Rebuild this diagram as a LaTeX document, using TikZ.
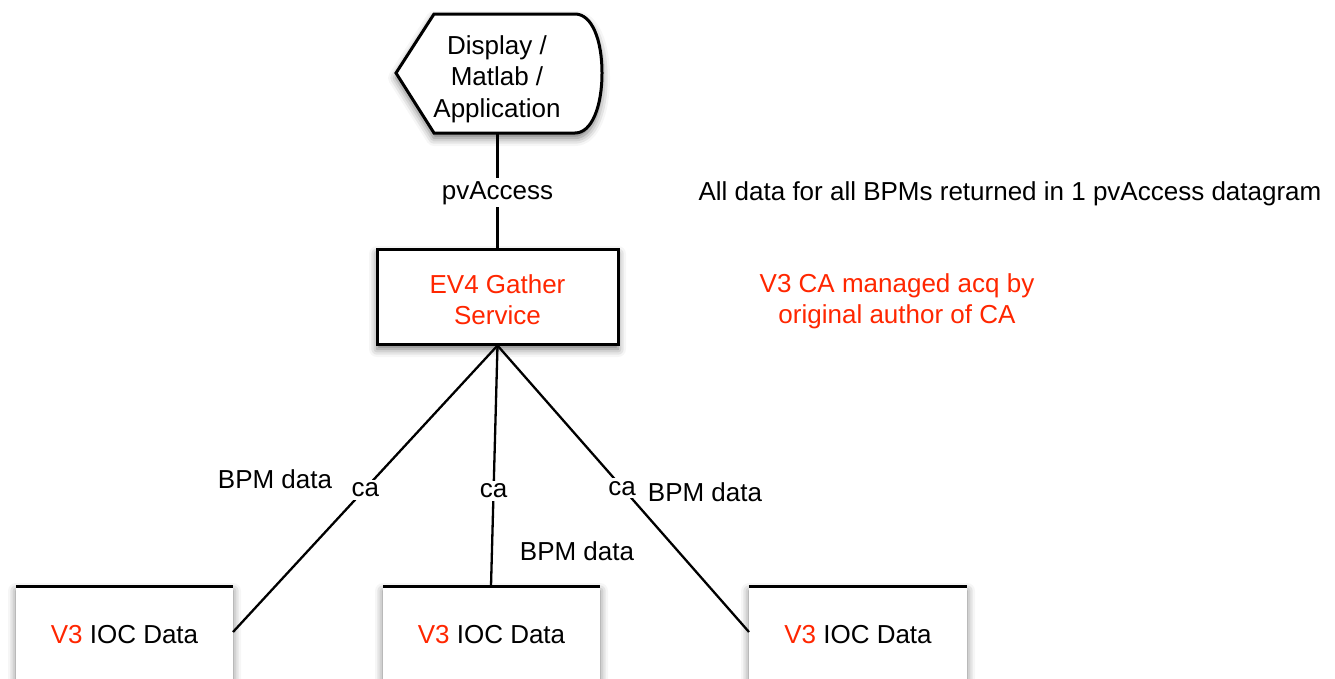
\documentclass[tikz,border=0pt]{standalone}
\usepackage{fontspec}
\setmainfont{Liberation Sans}
\usetikzlibrary{shadows.blur}
\definecolor{vred}{RGB}{255,38,0}
\begin{document}
\begin{tikzpicture}[x=1pt,y=-1pt,
  font=\fontsize{26}{31.5}\selectfont,
  shd/.style={blur shadow={shadow xshift=0pt, shadow yshift=-5pt, shadow blur radius=8pt, shadow opacity=55}},
  boxline/.style={line width=3pt},
  conn/.style={line width=2.3pt},
  lbl/.style={fill=white, inner sep=3pt},
  txt/.style={align=center, inner sep=0pt}]
\useasboundingbox (0,0) rectangle (1335,678);
\clip (0,0) rectangle (1335,678);

% Display shape
\path[shd, fill=white] (396,73) -- (434,14) -- (575,14)
  .. controls (592,14) and (602,40) .. (602,73)
  .. controls (602,106) and (592,133) .. (575,133) -- (434,133) -- cycle;
\draw[boxline, fill=white] (396,73) -- (434,14) -- (575,14)
  .. controls (592,14) and (602,40) .. (602,73)
  .. controls (602,106) and (592,133) .. (575,133) -- (434,133) -- cycle;
\node[txt] (disp) at (497,79) {Display /\\Matlab /\\Application};
\coordinate (dispb) at (497.5,133);

% Gather service
\node[boxline, draw, fill=white, shd, minimum width=241pt, minimum height=95pt,
  inner sep=0pt] (gather) at (497.5,296.5) {};
\node[txt, text=vred] (gathertxt) at (497.5,299.5) {EV4 Gather\\Service};

\draw[conn] (dispb) -- node[lbl, yshift=-2.5pt] (pva) {pvAccess} (gather.north);

% IOC boxes
\path[shd, fill=white] (16,586) rectangle (233,740);
\path[shd, fill=white] (383,586) rectangle (600,740);
\path[shd, fill=white] (749,586) rectangle (967,740);
\draw[boxline] (16,586) -- (233,586);
\draw[boxline] (383,586) -- (600,586);
\draw[boxline] (749,586) -- (967,586);
\node[txt] (ioc1) at (124.5,635) {\textcolor{vred}{V3} IOC Data};
\node[txt] (ioc2) at (491.5,635) {\textcolor{vred}{V3} IOC Data};
\node[txt] (ioc3) at (858,635) {\textcolor{vred}{V3} IOC Data};
\coordinate (ioc1e) at (233,632);
\coordinate (ioc2n) at (491,586);
\coordinate (ioc3w) at (749,632);

% Connectors
\draw[conn] (gather.south) -- node[lbl, pos=0.5, yshift=-1pt] (ca1) {ca} (ioc1e);
\draw[conn] (gather.south) -- node[lbl, pos=0.6, yshift=-1pt] (ca2) {ca} (ioc2n);
\draw[conn] (gather.south) -- node[lbl, pos=0.495, yshift=-1pt] (ca3) {ca} (ioc3w);

% Labels
\node[txt] (bpm1) at (275,479) {BPM data};
\node[txt] (bpm2) at (577,551) {BPM data};
\node[txt] (bpm3) at (705,492) {BPM data};

\node[txt] (note1) at (1010,193.5) {All data for all BPMs returned in 1 pvAccess datagram};
\node[txt, text=vred] (note2) at (897,301.5) {V3 CA managed acq by\\original author of CA};
\end{tikzpicture}
\end{document}
